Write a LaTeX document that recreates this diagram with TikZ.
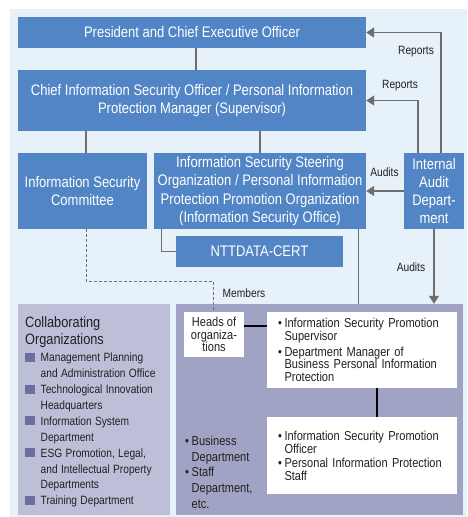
\documentclass[tikz,border=0pt]{standalone}
\usepackage{fontspec}
\setmainfont{Liberation Sans}[FakeStretch=0.85]
\usetikzlibrary{arrows.meta}
\definecolor{bgblue}{HTML}{E6F1F9}
\definecolor{boxblue}{HTML}{5285C5}
\definecolor{lpurple}{HTML}{BDBFD9}
\definecolor{dpurple}{HTML}{A0A3C3}
\definecolor{sqc}{HTML}{6C6F9C}
\definecolor{linegray}{HTML}{6E6E6E}
\definecolor{txt}{HTML}{231F20}
\newcommand{\bitm}[1]{\par\hangindent=6.5pt\hangafter=1\noindent\makebox[6.5pt][l]{\textbullet}#1}
\newcommand{\sitm}[1]{\par\hangindent=15.5pt\hangafter=1\noindent\makebox[15.5pt][l]{\textcolor{sqc}{\rule{10pt}{9pt}}}#1}
\begin{document}
\begin{tikzpicture}[x=1pt,y=-1pt,
  bluebox/.style={fill=boxblue, text=white, inner sep=0pt, align=center, font=\fontsize{15.3}{18.3}\selectfont},
  whitebox/.style={fill=white, inner sep=0pt, text=txt},
  panel/.style={inner sep=0pt, minimum height=211pt},
  conn/.style={draw=linegray, line width=1.3pt},
  arr/.style={conn, -{Triangle[length=8pt,width=10pt]}},
  blk/.style={draw=black, line width=1.8pt},
  dashconn/.style={draw=linegray, line width=1pt, dash pattern=on 3pt off 2pt},
  lbl/.style={font=\fontsize{12}{14}\selectfont, text=txt, inner sep=0pt},
  small/.style={font=\fontsize{13}{12.6}\selectfont}
]
\useasboundingbox (0,0) rectangle (467,517);
\fill[bgblue] (10,9) rectangle (467,517);

% blue boxes
\node[bluebox, minimum width=348pt, minimum height=31pt] (pres) at (192,32.5) {President and Chief Executive Officer};
\node[bluebox, minimum width=348pt, minimum height=61pt] (ciso) at (192,100.5) {Chief Information Security Officer / Personal Information\\Protection Manager (Supervisor)};
\node[bluebox, minimum width=129pt, minimum height=76pt] (isc) at (82.5,191) {Information Security\\Committee};
\node[bluebox, minimum width=212pt, minimum height=76pt] (steer) at (260,191) {Information Security Steering\\Organization / Personal Information\\Protection Promotion Organization\\(Information Security Office)};
\node[bluebox, minimum width=60pt, minimum height=76pt] (audit) at (434,191) {Internal\\Audit\\Depart-\\ment};
\node[bluebox, minimum width=167pt, minimum height=31pt] (cert) at (259.5,251.5) {NTTDATA-CERT};

% panels
\node[panel, fill=lpurple, minimum width=152pt] (collab) at (94,409.5) {};
\node[panel, fill=dpurple, minimum width=287pt] (dept) at (319.5,409.5) {};

% white boxes
\node[whitebox, small, minimum width=60pt, minimum height=45pt, align=center] (heads) at (214,334.5) {Heads of\\organiza-\\tions};
\node[whitebox, small, minimum width=190pt, minimum height=76pt, text width=168pt] (sup) at (362,350) {};
\node[anchor=center, inner sep=0pt, text width=168pt, small, text=txt] (suptxt) at (362,348.3)
  {\raggedright\bitm{Information Security Promotion\newline Supervisor}\par\vspace{3pt}\bitm{Department Manager of\newline Business Personal Information\newline Protection}\par};
\node[whitebox, small, minimum width=190pt, minimum height=77pt, text width=168pt] (off) at (362,455.5) {};
\node[anchor=center, inner sep=0pt, text width=168pt, small, text=txt] (offtxt) at (362,454.3)
  {\raggedright\bitm{Information Security Promotion\newline Officer}\par\vspace{1.5pt}\bitm{Personal Information Protection\newline Staff}\par};

% panel texts
\node[anchor=north west, inner sep=0pt, text width=145pt, text=txt] (collabtxt) at (25,316)
  {\raggedright{\fontsize{15}{17}\selectfont Collaborating\newline Organizations\par}\vspace{1.8pt}\fontsize{12}{15.9}\selectfont
   \sitm{Management Planning\newline and Administration Office}%
   \sitm{Technological Innovation\newline Headquarters}%
   \sitm{Information System\newline Department}%
   \sitm{ESG Promotion, Legal,\newline and Intellectual Property\newline Departments}%
   \sitm{Training Department}\par};
\node[anchor=north west, inner sep=0pt, text width=70pt, text=txt, font=\fontsize{13}{15.9}\selectfont] (depttxt) at (185,429)
  {\raggedright\bitm{Business\newline Department}\bitm{Staff\newline Department,\newline etc.}\par};

% connectors
\draw[conn] ([xshift=4pt]pres.south) -- ([xshift=4pt]ciso.north);
\coordinate (c1) at ([xshift=3.5pt]isc.north);
\draw[conn] (c1) -- (c1 |- ciso.south);
\draw[conn] (steer.north) -- (steer.north |- ciso.south);
\draw[conn] ([xshift=8pt]steer.south west) |- (cert.west);
\draw[arr] ([xshift=7pt]audit.north) |- (pres.east);
\draw[arr] ([xshift=-16pt]audit.north) |- (ciso.east);
\draw[arr] (audit.west) -- (steer.east);
\draw[arr] (audit.south) -- (audit.south |- dept.north);
\coordinate (s1) at ([xshift=-8pt]steer.south east);
\draw[conn] (s1) -- (s1 |- dept.north);
\draw[dashconn] ([xshift=3.5pt]isc.south) -- ++(0,52) -| ([xshift=-1pt]heads.north);
\draw[blk] ([yshift=8.5pt]heads.east) -- ([yshift=8.5pt]heads.east -| sup.west);
\coordinate (v1) at ([xshift=15pt]sup.south);
\draw[blk] (v1) -- (v1 |- off.north);

% labels
\node[lbl] (rep1) at (416,52) {Reports};
\node[lbl] (rep2) at (400,86) {Reports};
\node[lbl] (aud1) at (384.5,172) {Audits};
\node[lbl] (aud2) at (411,267) {Audits};
\node[lbl] (mem) at (244,293) {Members};
\end{tikzpicture}
\end{document}
